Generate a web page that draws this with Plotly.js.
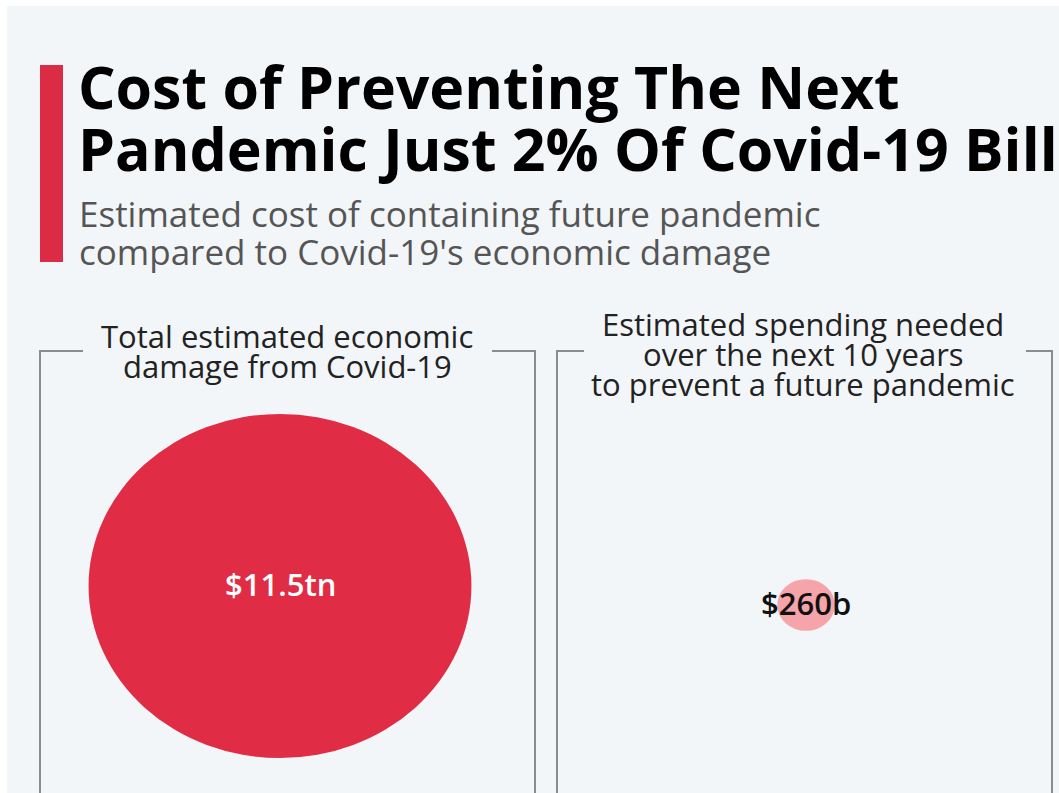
<!DOCTYPE html>
<html>
<head>
<meta charset="utf-8">
<script src="https://cdn.plot.ly/plotly-3.0.1.min.js"></script>
<style>html,body{margin:0;padding:0;background:#fff;}#chart{width:1059px;height:793px;}</style>
</head>
<body>
<div id="chart"></div>
<script>
// ---- data ----
const titleLines = ["Cost of Preventing The Next", "Pandemic Just 2% Of Covid-19 Bill"];
const subtitleLines = ["Estimated cost of containing future pandemic", "compared to Covid-19's economic damage"];
const categoryLines = [
  ["Total estimated economic", "damage from Covid-19"],
  ["Estimated spending needed", "over the next 10 years", "to prevent a future pandemic"]
];
const valuesBillion = [11500, 260];
const valueLabels = ["$11.5tn", "$260b"];
const bubbleColors = ["#e02d45", "#f5a4aa"];
const labelColors = ["#ffffff", "#111111"];

// ---- layout (pixel-space axes) ----
const W = 1059, H = 793;
const FONT = "Open Sans, Noto Sans, sans-serif";
const centers = [[280, 586], [806, 605]];
const k = 1.692;               // px per sqrt(billion)
const sx = 1.055, sy = 0.948;  // slight horizontal stretch as in the reference

const shapes = [];
const annotations = [];

// background with thin white frame
shapes.push({type: "rect", xref: "x", yref: "y", x0: 7, x1: W, y0: 6, y1: H,
  fillcolor: "#f3f6f9", line: {width: 0}, layer: "below"});
// red accent bar
shapes.push({type: "rect", xref: "x", yref: "y", x0: 40, x1: 63, y0: 65, y1: 262,
  fillcolor: "#dc2b45", line: {width: 0}, layer: "below"});

// bracket boxes
const lineStyle = {color: "#8c8c8c", width: 2};
const boxes = [
  {l: 40, r: 535, gapL: 83, gapR: 492},
  {l: 557, r: 1052, gapL: 584, gapR: 1026}
];
const topY = 351;
boxes.forEach(b => {
  shapes.push({type: "path", xref: "x", yref: "y", path: `M ${b.gapL} ${topY} L ${b.l} ${topY} L ${b.l} ${H + 5}`, line: lineStyle});
  shapes.push({type: "path", xref: "x", yref: "y", path: `M ${b.gapR} ${topY} L ${b.r} ${topY} L ${b.r} ${H + 5}`, line: lineStyle});
});

// bubbles sized by area
valuesBillion.forEach((v, i) => {
  const r = k * Math.sqrt(v);
  const [cx, cy] = centers[i];
  shapes.push({type: "circle", xref: "x", yref: "y",
    x0: cx - r * sx, x1: cx + r * sx, y0: cy - r * sy, y1: cy + r * sy,
    fillcolor: bubbleColors[i], line: {width: 0}, layer: "below"});
  annotations.push({xref: "x", yref: "y", x: cx, y: cy - 2, text: valueLabels[i],
    showarrow: false, xanchor: "center", yanchor: "middle",
    font: {family: FONT, size: 31, color: labelColors[i], weight: 600}});
});

// title lines
const titleY = [86, 148];
titleLines.forEach((t, i) => annotations.push({xref: "x", yref: "y", x: 76, y: titleY[i], text: t,
  showarrow: false, xanchor: "left", yanchor: "middle",
  font: {family: FONT, size: 59, color: "#000000", weight: 700}}));

// subtitle lines
const subY = [213, 251];
subtitleLines.forEach((t, i) => annotations.push({xref: "x", yref: "y", x: 77, y: subY[i], text: t,
  showarrow: false, xanchor: "left", yanchor: "middle",
  font: {family: FONT, size: 35, color: "#555555"}}));

// category headings
const headY = [[336, 366], [324, 354, 384]];
const headX = [287, 803];
categoryLines.forEach((lines, i) => lines.forEach((t, j) => annotations.push({
  xref: "x", yref: "y", x: headX[i], y: headY[i][j], text: t,
  showarrow: false, xanchor: "center", yanchor: "middle",
  font: {family: FONT, size: 31, color: "#222222"}})));

const layout = {
  width: W, height: H,
  margin: {l: 0, r: 0, t: 0, b: 0},
  paper_bgcolor: "#ffffff", plot_bgcolor: "rgba(0,0,0,0)",
  xaxis: {range: [0, W], visible: false, fixedrange: true},
  yaxis: {range: [H, 0], visible: false, fixedrange: true},
  showlegend: false,
  shapes: shapes,
  annotations: annotations
};

Plotly.newPlot("chart", [{type: "scatter", x: [], y: [], hoverinfo: "skip"}], layout, {displayModeBar: false, staticPlot: true});
</script>
</body>
</html>
